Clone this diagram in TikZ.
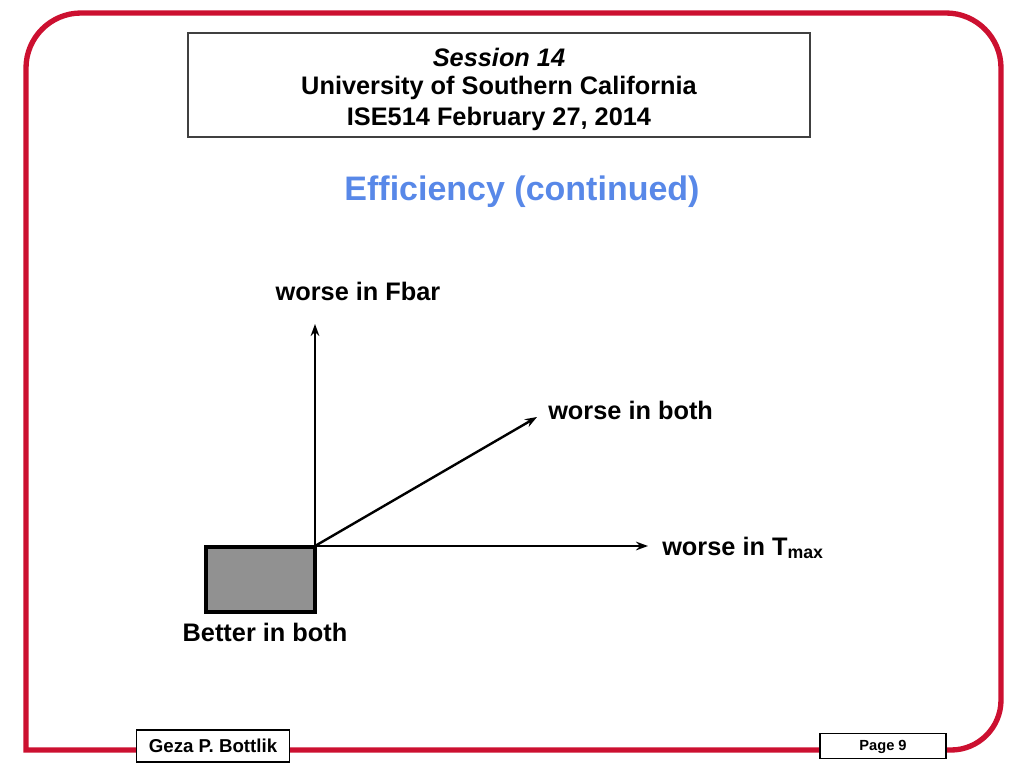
\documentclass[tikz,border=0pt]{standalone}
\usepackage{fontspec}
\setmainfont{Liberation Sans}
\usetikzlibrary{arrows.meta}
\definecolor{uscred}{RGB}{204,16,48}
\definecolor{titleblue}{RGB}{88,136,232}
\begin{document}
\begin{tikzpicture}[x=0.75pt,y=-0.75pt,
    every node/.style={inner sep=0pt, font=\bfseries},
    label/.style={font=\fontsize{19}{23}\selectfont\bfseries},
    headtext/.style={font=\fontsize{19}{23}\selectfont\bfseries},
    footbox/.style={draw=black, fill=white, line width=1.2pt, inner sep=0pt},
    axis/.style={line width=1.8pt, -{Stealth[length=9pt,width=6.5pt]}}]
    \useasboundingbox (0,0) rectangle (1024,768);

    % red frame
    \draw[uscred, line width=4pt, line join=miter] (26,750) -- (26,68) arc[start angle=180, end angle=270, radius=55] -- (946,13)
        arc[start angle=270, end angle=360, radius=55] -- (1001,700) arc[start angle=0, end angle=90, radius=50] -- cycle;

    % header
    \node[draw=black!75, line width=1.2pt, minimum width=622*0.75pt, minimum height=104*0.75pt] (head) at (499,85) {};
    \node[headtext, font=\fontsize{19}{23}\selectfont\bfseries\itshape] (sess) at (499,57) {Session 14};
    \node[headtext] (univ) at (499,88) {University of Southern California};
    \node[headtext] (date) at (499,119) {ISE514 February 27, 2014};

    % title
    \node[text=titleblue, font=\fontsize{25.5}{30}\selectfont\bfseries] (title) at (522,192) {Efficiency (continued)};

    % axes
    \coordinate (o) at (315,546);
    \coordinate (xs) at (232,546);
    \coordinate (xe) at (648,546);
    \coordinate (ye) at (315,324);
    \coordinate (de) at (537,417);
    \coordinate (ys) at (315,588);
    \draw[fill=black!43, line width=2.4pt] (206,547) rectangle (315,612);
    \draw[axis] (xs) -- (xe);
    \draw[axis] (ys) -- (ye);
    \draw[axis] (o) -- (de);

    \node[label] (fbar) at (358,291) {worse in Fbar};
    \node[label, anchor=west] (both) at (548,410) {worse in both};
    \node[label, anchor=west] (tmax) at (662,548) {worse in T$_{\mathbf{max}}$};
    \node[label] (better) at (265,632) {Better in both};

    % footer
    \node[footbox, minimum width=153*0.75pt, minimum height=32*0.75pt] (auth) at (213,746) {};
    \node[font=\fontsize{14}{17}\selectfont\bfseries] at (auth) {Geza P. Bottlik};
    \node[footbox, minimum width=126*0.75pt, minimum height=25*0.75pt] (page) at (883,746) {};
    \node[font=\fontsize{11}{13}\selectfont\bfseries] at ([yshift=-1pt]page) {Page 9};
\end{tikzpicture}
\end{document}
